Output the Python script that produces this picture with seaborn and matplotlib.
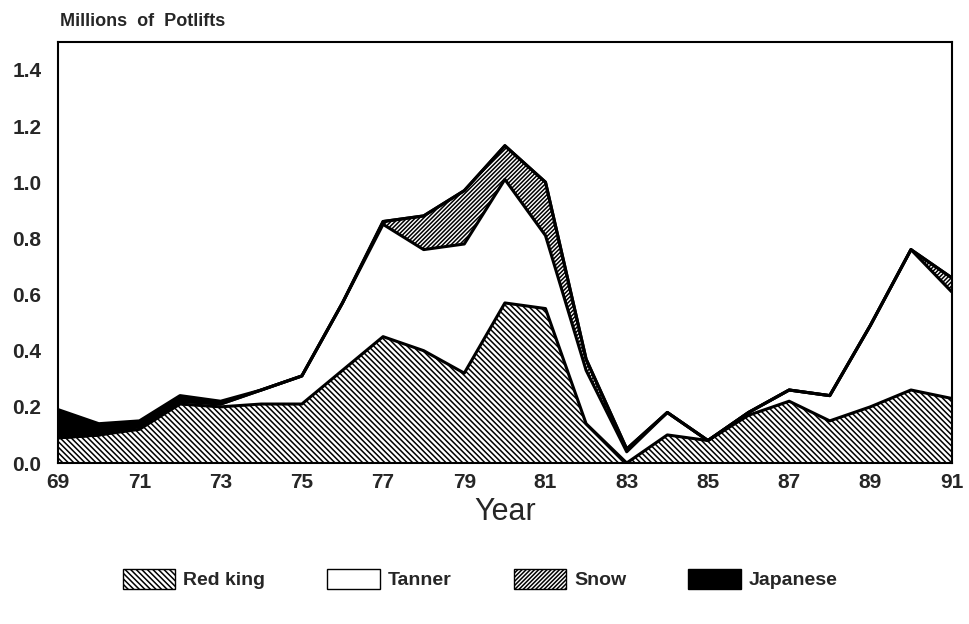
import matplotlib
matplotlib.use("Agg")
import matplotlib.pyplot as plt
import seaborn as sns
import pandas as pd
from matplotlib.patches import Patch

# data (millions of potlifts, stacked)
years = list(range(1969, 1992))
red_king = [0.09, 0.10, 0.12, 0.21, 0.20, 0.21, 0.21, 0.33, 0.45, 0.40, 0.32, 0.57,
            0.55, 0.14, 0.00, 0.10, 0.08, 0.17, 0.22, 0.15, 0.20, 0.26, 0.23]
tanner = [0.00, 0.00, 0.01, 0.01, 0.01, 0.05, 0.10, 0.24, 0.40, 0.36, 0.46, 0.44,
          0.26, 0.19, 0.04, 0.08, 0.00, 0.01, 0.04, 0.09, 0.29, 0.50, 0.38]
snow = [0.00, 0.00, 0.00, 0.00, 0.00, 0.00, 0.00, 0.00, 0.01, 0.12, 0.19, 0.12,
        0.19, 0.04, 0.01, 0.00, 0.00, 0.00, 0.00, 0.00, 0.00, 0.00, 0.05]
japanese = [0.10, 0.04, 0.02, 0.02, 0.01, 0.00, 0.00, 0.00, 0.00, 0.00, 0.00, 0.00,
            0.00, 0.00, 0.00, 0.00, 0.00, 0.00, 0.00, 0.00, 0.00, 0.00, 0.00]
labels = ["Red king", "Tanner", "Snow", "Japanese"]

sns.set_style("white")
plt.rcParams['font.family'] = ['Liberation Sans', 'DejaVu Sans']
plt.rcParams['hatch.linewidth'] = 1.1

fig = plt.figure(figsize=(9.7, 6.24), dpi=100)
ax = fig.add_axes([0.06, 0.258, 0.921, 0.675])

series = [red_king, tanner, snow, japanese]
colors = ["white", "white", "white", "black"]
hatches = ["\\\\\\\\\\\\", "", "////////", ""]
polys = ax.stackplot(years, *series, colors=colors, edgecolor="black", linewidth=0)
for p, h in zip(polys, hatches):
    p.set_hatch(h)

# layer outlines
df = pd.DataFrame({"year": years})
running = [0.0] * len(years)
for name, s in zip(labels, series):
    running = [a + b for a, b in zip(running, s)]
    df[name] = running
for name in labels:
    sns.lineplot(data=df, x="year", y=name, ax=ax, color="black", linewidth=2.2)

ax.set_xlim(1969, 1991)
ax.set_ylim(0, 1.5)
ax.set_xticks(range(1969, 1992, 2))
ax.set_xticklabels([str(y)[2:] for y in range(1969, 1992, 2)])
ax.set_yticks([0, 0.2, 0.4, 0.6, 0.8, 1.0, 1.2, 1.4])
ax.set_yticklabels(["0.0", "0.2", "0.4", "0.6", "0.8", "1.0", "1.2", "1.4"])
ax.tick_params(axis="both", labelsize=15, direction="in", length=3, width=1.2)
ax.tick_params(axis="x", pad=7)
ax.tick_params(axis="y", pad=12)
for t in ax.get_xticklabels() + ax.get_yticklabels():
    t.set_fontweight("bold")
for sp in ax.spines.values():
    sp.set_linewidth(1.5)
    sp.set_color("black")

ax.set_xlabel("Year", fontsize=22, labelpad=4)
ax.set_ylabel("")
fig.text(0.062, 0.965, "Millions  of  Potlifts", fontsize=13, fontweight="bold", va="center")

handles = [Patch(facecolor=c, edgecolor="black", hatch=h) for c, h in zip(colors, hatches)]
leg = fig.legend(handles, labels, loc="center", bbox_to_anchor=(0.495, 0.072), ncol=4, frameon=False,
                 fontsize=14, handlelength=2.7, handleheight=1.2, columnspacing=3.2, handletextpad=0.4)
for t in leg.get_texts():
    t.set_fontweight("bold")

fig.savefig("out.png", dpi=100)
